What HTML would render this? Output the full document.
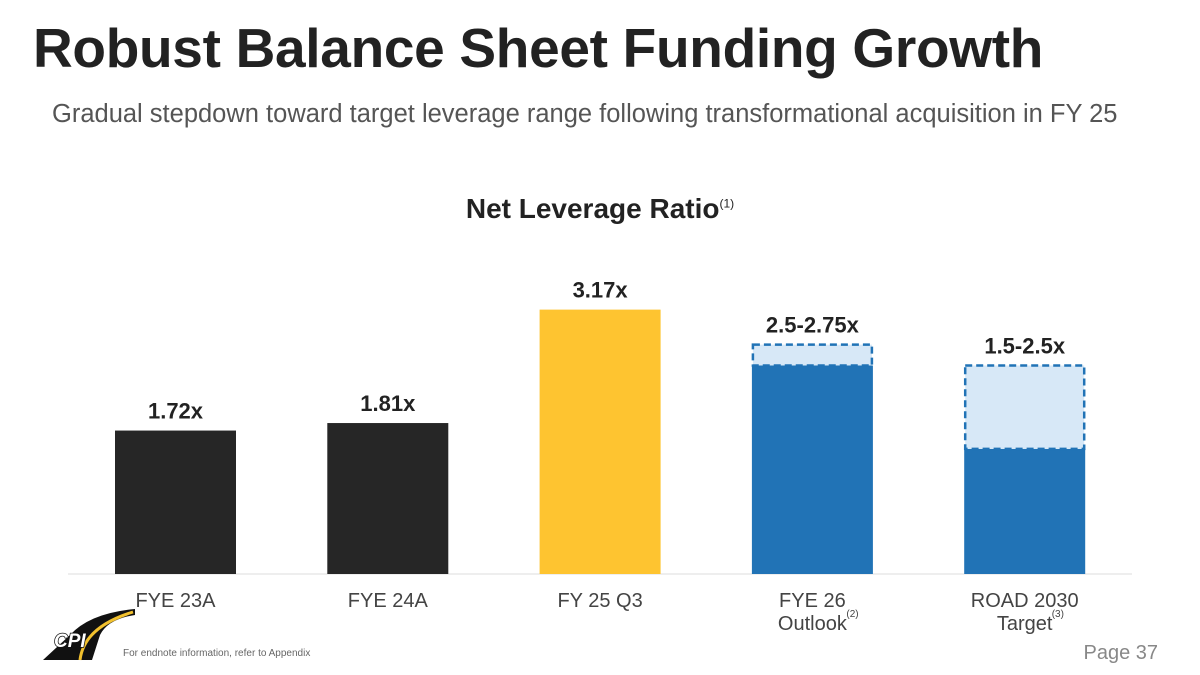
<!DOCTYPE html>
<html><head><meta charset="utf-8"><style>
body{margin:0;width:1200px;height:675px;background:#fff;overflow:hidden;font-family:"Liberation Sans",sans-serif;position:relative}
.t{position:absolute;margin:0}
</style></head><body>
<h1 class="t" style="left:33px;top:16px;font-size:55px;font-weight:bold;color:#222;letter-spacing:-0.3px;white-space:nowrap">Robust Balance Sheet Funding Growth</h1>
<div class="t" style="left:52px;top:100px;font-size:25.5px;color:#555;white-space:nowrap">Gradual stepdown toward target leverage range following transformational acquisition in FY 25</div>
<div class="t" style="left:0;width:1200px;text-align:center;top:193px;font-size:28px;font-weight:bold;color:#222">Net Leverage Ratio<sup style="font-size:12px;font-weight:normal">(1)</sup></div>
<svg id="c" class="t" width="1200" height="675" style="left:0;top:0"></svg>
<svg class="t" width="100" height="70" style="left:40px;top:605px">
<path d="M3 55 L30 30 Q50 8 95 4 L95 10 Q68 14 60 30 L52 55 Z" fill="#111"/>
<path d="M40 55 Q44 22 93 7" stroke="#f2c12e" stroke-width="3" fill="none"/>
<text x="14" y="42" font-size="19" font-weight="bold" font-style="italic" fill="#fff" stroke="#111" stroke-width="1.5" paint-order="stroke">CPI</text>
</svg>
<div class="t" style="left:123px;top:648px;font-size:10px;color:#666">For endnote information, refer to Appendix</div>
<div class="t" style="right:42px;top:642px;font-size:20px;color:#888">Page 37</div>
<script>
const categories=["FYE 23A","FYE 24A","FY 25 Q3","FYE 26","ROAD 2030"];
const subLabels=["","","","Outlook","Target"];
const subNotes=["","","","(2)","(3)"];
const lowValues=[1.72,1.81,3.17,2.5,1.5];
const highValues=[null,null,null,2.75,2.5];
const valueLabels=["1.72x","1.81x","3.17x","2.5-2.75x","1.5-2.5x"];
const colors=["#262626","#262626","#fec430","#2173b6","#2173b6"];
const svg=document.getElementById('c');const NS="http://www.w3.org/2000/svg";
const base=574,scale=83.4,x0=115,step=212.3,bw=121;
const y=v=>base-v*scale;const x=i=>x0+i*step;
function mk(t,a){const e=document.createElementNS(NS,t);for(const k in a)e.setAttribute(k,a[k]);svg.appendChild(e);return e;}
const ax=mk('line',{x1:68,x2:1132,y1:base,y2:base,stroke:'#ddd','stroke-width':1});


categories.forEach((c,i)=>{
 const r=mk('rect',{x:x(i),y:y(lowValues[i]),width:bw,height:lowValues[i]*scale,fill:colors[i]});
 
 
 let top=y(lowValues[i]);
 if(highValues[i]!=null){
  const d=mk('rect',{x:x(i)+1,y:y(highValues[i]),width:bw-2,height:(highValues[i]-lowValues[i])*scale,fill:'#d7e8f7',stroke:'#2173b6','stroke-width':2.5,'stroke-dasharray':'7,4'});
  
  
  top=y(highValues[i]);
 }
 const v=mk('text',{x:x(i)+bw/2,y:top-12,'text-anchor':'middle','font-size':22,'font-weight':'bold',fill:'#222'});
 v.textContent=valueLabels[i];
 
 
 const l=mk('text',{x:x(i)+bw/2,y:607,'text-anchor':'middle','font-size':20,fill:'#444'});
 l.textContent=c;
 
 
 if(subLabels[i]){
  const s=mk('text',{x:x(i)+bw/2,y:630,'text-anchor':'middle','font-size':20,fill:'#444'});
  s.textContent=subLabels[i];
  
  
  const n=mk('text',{x:x(i)+bw/2+(i==3?34:27),y:617,'font-size':10,fill:'#444'});
  n.textContent=subNotes[i];
  
  
 }
});
</script>
</body></html>
